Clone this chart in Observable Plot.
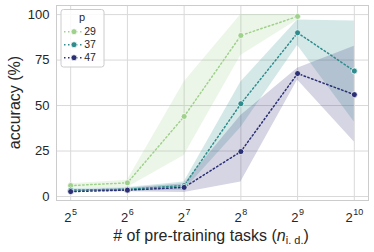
<!DOCTYPE html>
<html>
<head>
<meta charset="utf-8">
<script src="https://cdn.jsdelivr.net/npm/d3@7"></script>
<script src="https://cdn.jsdelivr.net/npm/@observablehq/plot@0.6"></script>
<style>
  html, body { margin: 0; padding: 0; background: white; }
  #chart { width: 374px; height: 252px; }
</style>
</head>
<body>
<div id="chart"></div>
<script>
// ---- data ----
const tasks = [32, 64, 128, 256, 512, 1024];
const tickExponents = [5, 6, 7, 8, 9, 10];
const yTicks = [0, 25, 50, 75, 100];
const pValues = [29, 37, 47];
const colors = ["#a0d18c", "#2e8c8c", "#2b2f74"];

const acc29 = [6.0, 7.5, 44.0, 88.5, 99.0, null];
const lo29  = [5.0, 5.0, 22.5, 77.5, 97.0, null];
const hi29  = [7.0, 9.0, 63.0, 100.0, 100.0, null];

const acc37 = [3.5, 4.0, 6.0, 51.0, 90.0, 69.0];
const lo37  = [2.8, 3.0, 3.5, 38.0, 83.0, 41.0];
const hi37  = [4.5, 5.0, 8.0, 63.0, 97.0, 96.5];

const acc47 = [2.7, 3.5, 5.0, 24.7, 67.6, 56.0];
const lo47  = [2.7, 2.6, 2.2, 8.0, 64.0, 30.0];
const hi47  = [3.5, 4.5, 7.0, 44.5, 70.5, 82.6];

const series = [
  {p: 29, acc: acc29, lo: lo29, hi: hi29},
  {p: 37, acc: acc37, lo: lo37, hi: hi37},
  {p: 47, acc: acc47, lo: lo47, hi: hi47}
];

const rows = [];
for (const s of series) {
  tasks.forEach((n, i) => {
    if (s.acc[i] != null) rows.push({p: s.p, n, acc: s.acc[i], lo: s.lo[i], hi: s.hi[i]});
  });
}

const textColor = "#262626";
const font = "'Liberation Sans', Arial, sans-serif";

const chart = Plot.plot({
  width: 374,
  height: 252,
  marginLeft: 56,
  marginRight: 6,
  marginTop: 5,
  marginBottom: 52,
  style: {fontFamily: font, fontSize: "13px", background: "white", color: textColor},
  x: {type: "log", base: 2, domain: [2 ** 4.75, 2 ** 10.25], label: null},
  y: {domain: [-2.2, 105], label: null},
  color: {type: "ordinal", domain: pValues, range: colors},
  marks: [
    Plot.gridX(tasks, {stroke: "#d9d9d9", strokeOpacity: 1, strokeWidth: 1}),
    Plot.gridY(yTicks, {stroke: "#d9d9d9", strokeOpacity: 1, strokeWidth: 1}),
    Plot.frame({stroke: "#cccccc", strokeWidth: 1}),
    Plot.areaY(rows, {x: "n", y1: "lo", y2: "hi", z: "p", fill: "p", fillOpacity: 0.2}),
    Plot.line(rows, {x: "n", y: "acc", z: "p", stroke: "p", strokeWidth: 1.5, strokeDasharray: "1.5,2.5"}),
    Plot.dot(rows, {x: "n", y: "acc", fill: "p", r: 3, stroke: "white", strokeWidth: 0.75}),
    Plot.axisX(tasks, {tickSize: 0, tickPadding: 12, fontSize: 13, tickFormat: d => "2^" + Math.round(Math.log2(d)), fill: textColor, label: null}),
    Plot.axisY(yTicks, {tickSize: 0, tickPadding: 7, fontSize: 13, fill: textColor, label: null})
  ]
});

document.getElementById("chart").appendChild(chart);
const svg = d3.select(chart);

// superscripted x tick labels: 2^k
svg.selectAll('g[aria-label="x-axis tick label"] text').each(function() {
  const t = d3.select(this);
  const s = t.text();
  const [b, e] = s.split("^");
  t.text(null);
  t.append("tspan").text(b);
  t.append("tspan").attr("dy", "-0.7em").attr("font-size", "9px").attr("dx", "0.5").text(e);
});

// axis labels
svg.append("text")
  .attr("x", 211).attr("y", 241)
  .attr("text-anchor", "middle")
  .attr("font-family", font).attr("font-size", 16).attr("fill", textColor)
  .call(t => {
    t.append("tspan").text("# of pre-training tasks (");
    t.append("tspan").attr("font-style", "italic").text("n");
    t.append("tspan").attr("font-size", 11).attr("dy", 3).text("i. d.");
    t.append("tspan").attr("dy", -3).text(")");
  });

svg.append("text")
  .attr("transform", "translate(20,102.5) rotate(-90)")
  .attr("text-anchor", "middle")
  .attr("font-family", font).attr("font-size", 16).attr("fill", textColor)
  .text("accuracy (%)");

// legend
const color = chart.scale("color");
const lg = svg.append("g").attr("font-family", font).attr("fill", textColor);
lg.append("rect")
  .attr("x", 61).attr("y", 9.5).attr("width", 43).attr("height", 57.5)
  .attr("rx", 2.5).attr("fill", "white").attr("fill-opacity", 0.85)
  .attr("stroke", "#cccccc").attr("stroke-width", 1);
lg.append("text").attr("x", 82).attr("y", 21).attr("text-anchor", "middle").attr("font-size", 11).text("p");
pValues.forEach((p, i) => {
  const yy = 31.7 + i * 13;
  const c = color.apply(p);
  lg.append("line").attr("x1", 64).attr("x2", 84).attr("y1", yy).attr("y2", yy)
    .attr("stroke", c).attr("stroke-width", 1.5).attr("stroke-dasharray", "1.5,2.5");
  lg.append("circle").attr("cx", 74).attr("cy", yy).attr("r", 3)
    .attr("fill", c).attr("stroke", "white").attr("stroke-width", 0.75);
  lg.append("text").attr("x", 90).attr("y", yy + 3.7).attr("font-size", 10.5).text(String(p));
});
</script>
</body>
</html>
